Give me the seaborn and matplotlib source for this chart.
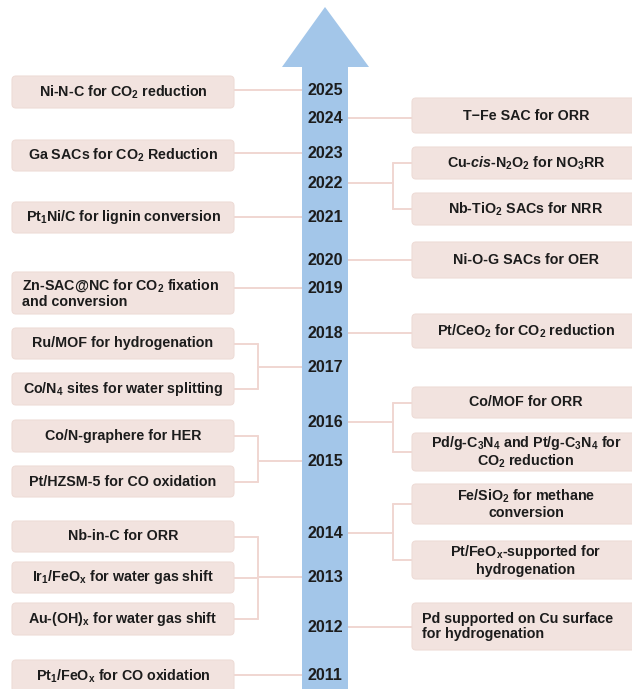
import matplotlib
matplotlib.use("Agg")
import matplotlib.pyplot as plt
import seaborn as sns
from matplotlib.patches import FancyBboxPatch, Polygon, Rectangle

# --- Data: years on the arrow and the milestones on each side ---
years = [2025, 2024, 2023, 2022, 2021, 2020, 2019, 2018,
         2017, 2016, 2015, 2014, 2013, 2012, 2011]

left_labels = [
    r"Ni-N-C for CO$_\mathrm{2}$ reduction",
    r"Ga SACs for CO$_\mathrm{2}$ Reduction",
    r"Pt$_\mathrm{1}$Ni/C for lignin conversion",
    "Zn-SAC@NC for CO$_\\mathrm{2}$ fixation\nand conversion",
    "Ru/MOF for hydrogenation",
    r"Co/N$_\mathrm{4}$ sites for water splitting",
    "Co/N-graphere for HER",
    "Pt/HZSM-5 for CO oxidation",
    "Nb-in-C for ORR",
    r"Ir$_\mathrm{1}$/FeO$_\mathrm{x}$ for water gas shift",
    r"Au-(OH)$_\mathrm{x}$ for water gas shift",
    r"Pt$_\mathrm{1}$/FeO$_\mathrm{x}$ for CO oxidation",
]
left_years = [2025, 2023, 2021, 2019, 2017, 2017, 2015, 2015, 2013, 2013, 2013, 2011]

right_labels = [
    "T−Fe SAC for ORR",
    r"Cu-$\mathit{cis}$-N$_\mathrm{2}$O$_\mathrm{2}$ for NO$_\mathrm{3}$RR",
    r"Nb-TiO$_\mathrm{2}$ SACs for NRR",
    "Ni-O-G SACs for OER",
    r"Pt/CeO$_\mathrm{2}$ for CO$_\mathrm{2}$ reduction",
    "Co/MOF for ORR",
    "Pd/g-C$_\\mathrm{3}$N$_\\mathrm{4}$ and Pt/g-C$_\\mathrm{3}$N$_\\mathrm{4}$ for\nCO$_\\mathrm{2}$ reduction",
    "Fe/SiO$_\\mathrm{2}$ for methane\nconversion",
    "Pt/FeO$_\\mathrm{x}$-supported for\nhydrogenation",
    "Pd supported on Cu surface\nfor hydrogenation",
]
right_years = [2024, 2022, 2022, 2020, 2018, 2016, 2016, 2014, 2014, 2012]

# --- Layout (pixel coordinates, y grows downward) ---
year_y = [90, 118, 153, 183, 217, 260, 288, 333, 367, 422, 461, 533, 577, 627, 675]
left_box = [(76, 108), (140, 171), (202, 233), (272, 314), (328, 359), (373, 405),
            (420, 452), (466, 497), (521, 552), (562, 593), (603, 635), (660, 692)]
right_box = [(98, 133), (147, 179), (193, 225), (242, 278), (314, 348), (387, 418),
             (433, 471), (484, 524), (541, 579), (603, 650)]
left_align = {3: "left"}
right_align = {9: "left"}

W, H = 632, 689
box_col = "#f2e3df"
box_edge = "#eedcd7"
line_col = "#f0d6d1"
arrow_col = "#a3c6e9"
text_col = "#1c1c1c"

sns.set_theme(style="white")
plt.rcParams["font.family"] = ["Liberation Sans", "DejaVu Sans"]
plt.rcParams["mathtext.fontset"] = "custom"
plt.rcParams["mathtext.rm"] = "Liberation Sans:bold"
plt.rcParams["mathtext.it"] = "Liberation Sans:bold:italic"
plt.rcParams["mathtext.bf"] = "Liberation Sans:bold"

fig = plt.figure(figsize=(W / 100, H / 100), dpi=100)
ax = fig.add_axes([0, 0, 1, 1])
ax.set_xlim(0, W)
ax.set_ylim(H, 0)
ax.axis("off")

# --- Arrow ---
ax.add_patch(Rectangle((302, 66), 46, H - 66, color=arrow_col, lw=0, zorder=2))
ax.add_patch(Polygon([(282, 67), (325, 7), (369, 67)], closed=True,
                     color=arrow_col, lw=0, zorder=2))
year_pos = dict(zip(years, year_y))
for yr, yy in year_pos.items():
    ax.text(325, yy + 0.5, str(yr), ha="center", va="center", fontsize=11.5,
            fontweight="bold", color=text_col, zorder=4)


def draw_box(x0, x1, y0, y1, label, align):
    ax.add_patch(FancyBboxPatch((x0, y0), x1 - x0, y1 - y0,
                                boxstyle="round,pad=0,rounding_size=4",
                                fc=box_col, ec=box_edge, lw=0.8, zorder=3))
    if align == "left":
        ax.text(x0 + 10, (y0 + y1) / 2, label, ha="left", va="center",
                fontsize=10.3, fontweight="bold", color=text_col,
                linespacing=1.1, zorder=4)
    else:
        ax.text((x0 + x1) / 2, (y0 + y1) / 2, label, ha="center", va="center",
                fontsize=10.3, fontweight="bold", color=text_col,
                multialignment="center", linespacing=1.1, zorder=4)


def connect(side, idxs, boxes, yr):
    yy = year_pos[yr]
    centers = [(boxes[i][0] + boxes[i][1]) / 2 for i in idxs]
    if side == "left":
        edge, arrow_x, bx = 234, 302, 258
    else:
        edge, arrow_x, bx = 412, 348, 393
    if len(idxs) == 1:
        ax.plot([edge, arrow_x], [yy, yy], color=line_col, lw=1.4, zorder=1)
        return
    for c in centers:
        ax.plot([edge, bx], [c, c], color=line_col, lw=1.4, zorder=1)
    ax.plot([bx, bx], [min(centers), max(centers)], color=line_col, lw=1.4, zorder=1)
    ax.plot([bx, arrow_x], [yy, yy], color=line_col, lw=1.4, zorder=1)


# --- Left side ---
for i, (lab, (y0, y1)) in enumerate(zip(left_labels, left_box)):
    draw_box(12, 234, y0, y1, lab, left_align.get(i, "center"))
for yr in sorted(set(left_years), reverse=True):
    idxs = [i for i, y in enumerate(left_years) if y == yr]
    connect("left", idxs, left_box, yr)

# --- Right side ---
for i, (lab, (y0, y1)) in enumerate(zip(right_labels, right_box)):
    draw_box(412, 640, y0, y1, lab, right_align.get(i, "center"))
for yr in sorted(set(right_years), reverse=True):
    idxs = [i for i, y in enumerate(right_years) if y == yr]
    connect("right", idxs, right_box, yr)

fig.savefig("out.png", dpi=100)
